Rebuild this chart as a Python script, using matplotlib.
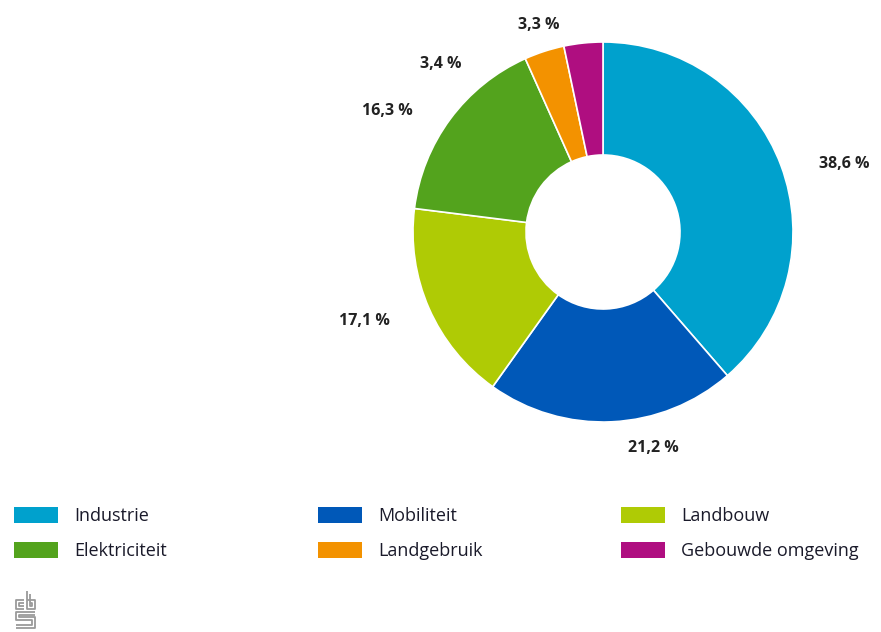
import matplotlib
matplotlib.use("Agg")
import matplotlib.pyplot as plt
import numpy as np
from matplotlib.patches import Rectangle

categories = ["Industrie", "Mobiliteit", "Landbouw", "Elektriciteit", "Landgebruik", "Gebouwde omgeving"]
values = [38.6, 21.2, 17.1, 16.3, 3.4, 3.3]
labels = ["38,6 %", "21,2 %", "17,1 %", "16,3 %", "3,4 %", "3,3 %"]
colors = ["#00a1cd", "#0058b8", "#afcb05", "#53a31d", "#f39200", "#af0e80"]

W, H = 881, 632
fig = plt.figure(figsize=(W / 100, H / 100), dpi=100)
ax = fig.add_axes([0, 0, 1, 1])

cx, cy = 603, H - 232
R, r_in = 190, 77
wedges, _ = ax.pie(values, center=(cx, cy), radius=R, startangle=90, counterclock=False,
                   colors=colors, wedgeprops=dict(width=R - r_in, edgecolor="white", linewidth=1.2),
                   frame=True)
ax.set_xlim(0, W)
ax.set_ylim(0, H)
ax.set_aspect("equal")
ax.axis("off")

# label placement (Highcharts-like, small slices pushed apart)
angle_shift = [-3, 4, -1, 4, 22, 6]
label_r = [226, 217, 231, 226, 220, 212]
for w, lab, sh, lr in zip(wedges, labels, angle_shift, label_r):
    ang = (w.theta1 + w.theta2) / 2 + sh
    a = np.deg2rad(ang)
    x = cx + lr * np.cos(a)
    y = cy + lr * np.sin(a)
    ha = "left" if np.cos(a) > 0 else "right"
    ax.text(x, y, lab, ha=ha, va="center", fontsize=11.5, fontweight="bold",
            color="#222222", family="Open Sans")

# legend
col_x = [14, 318, 621]
row_y = [515, 550]
for i, (cat, col) in enumerate(zip(categories, colors)):
    cx_i = col_x[i % 3]
    cy_i = H - row_y[i // 3]
    ax.add_patch(Rectangle((cx_i, cy_i - 8), 44, 16, facecolor=col, edgecolor="none"))
    ax.text(cx_i + 60, cy_i - 1, cat, ha="left", va="center", fontsize=13,
            color="#1a1a2a", family="Open Sans")

# cbs logo (simplified)
g = "#9a9a9a"
lw = 1.3
def line(xs, ys):
    ax.plot(xs, [H - y for y in ys], color=g, lw=lw, solid_capstyle="butt")
# c
line([24, 16, 16, 24], [600, 600, 609, 609])
line([24, 19, 19, 24], [603, 603, 606, 606])
# b
line([27, 27, 35, 35, 27], [591, 609, 609, 600, 600])
line([30, 30, 32, 32, 30], [594, 606, 606, 603, 603])
# s
line([35, 16, 16, 32, 32, 16], [612, 612, 620, 620, 625, 625])
line([35, 19, 19, 35, 35, 16], [615, 615, 617, 617, 628, 628])

fig.savefig("out.png", dpi=100)
